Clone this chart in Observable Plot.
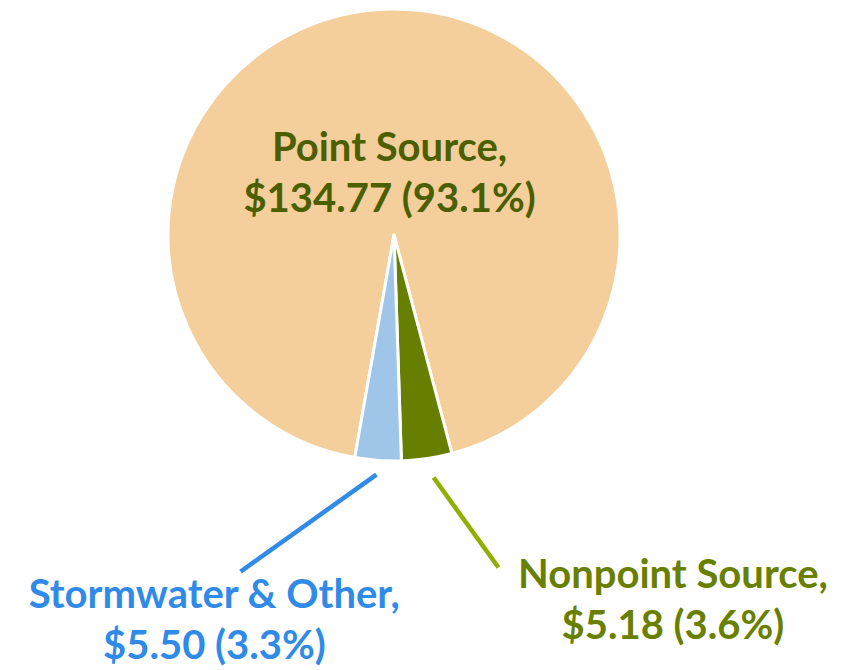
<!DOCTYPE html>
<html>
<head>
<meta charset="utf-8">
<script src="https://cdn.jsdelivr.net/npm/d3@7"></script>
<script src="https://cdn.jsdelivr.net/npm/@observablehq/plot@0.6"></script>
<style>
  html, body { margin: 0; padding: 0; background: #ffffff; }
  #chart svg { display: block; }
</style>
</head>
<body>
<div id="chart"></div>
<script>
// ---- data ----
const categories = ["Point Source", "Nonpoint Source", "Stormwater & Other"];
const dollars = ["134.77", "5.18", "5.50"];
const percents = [93.1, 3.6, 3.3];

// ---- styles ----
const sliceColors = ["#f4cf9b", "#667f00", "#9fc5e9"];
const labelColors = ["#4b5e00", "#687f00", "#2f8ae8"];
const leaderColors = [null, "#8fb000", "#2f8ae8"];

// ---- layout (pie units: centre 0,0, radius 1) ----
const startDeg = 190;
const labelPos = [
  {x: -0.022, y: 0.290},
  {x: 1.232, y: -1.599},
  {x: -0.797, y: -1.688}
];
const leaderPos = [
  null,
  {x1: 0.173, y1: -1.071, x2: 0.460, y2: -1.469},
  {x1: -0.080, y1: -1.058, x2: -0.681, y2: -1.487}
];

const slices = categories.map((c, i) => ({name: c, value: percents[i], color: sliceColors[i]}));
const labels = categories.map((c, i) => ({
  text: `${c},\n$${dollars[i]} (${percents[i]}%)`,
  x: labelPos[i].x, y: labelPos[i].y, color: labelColors[i]
}));
const leaders = categories.map((c, i) => leaderPos[i] ? {...leaderPos[i], color: leaderColors[i]} : null).filter(d => d);

const W = 851, H = 670, R = 226, CX = 394, CY = 235;

function pieMark(index, scales) {
  const cx = scales.x(0), cy = scales.y(0);
  const r = scales.x(1) - scales.x(0);
  const a0 = startDeg * Math.PI / 180;
  const arcs = d3.pie().sort(null).value(d => d.value).startAngle(a0).endAngle(a0 + 2 * Math.PI)(slices);
  const arc = d3.arc().innerRadius(0).outerRadius(r);
  const g = d3.create("svg:g").attr("transform", `translate(${cx},${cy})`);
  g.selectAll("path").data(arcs).join("path")
    .attr("d", arc)
    .attr("fill", d => d.data.color)
    .attr("stroke", "#ffffff")
    .attr("stroke-width", 3)
    .attr("stroke-linejoin", "round");
  return g.node();
}

const chart = Plot.plot({
  width: W,
  height: H,
  margin: 0,
  x: {domain: [-CX / R, (W - CX) / R], range: [0, W], axis: null},
  y: {domain: [-(H - CY) / R, CY / R], range: [H, 0], axis: null},
  style: {background: "#ffffff", fontFamily: "Lato, 'Open Sans', sans-serif"},
  marks: [
    pieMark,
    Plot.link(leaders, {x1: "x1", y1: "y1", x2: "x2", y2: "y2", stroke: d => d.color, strokeWidth: 4.5}),
    Plot.text(labels, {
      x: "x", y: "y", text: "text", fill: d => d.color,
      fontSize: 40, fontWeight: "bold", lineHeight: 1.275, textAnchor: "middle"
    })
  ]
});
document.getElementById("chart").appendChild(chart);
</script>
</body>
</html>
